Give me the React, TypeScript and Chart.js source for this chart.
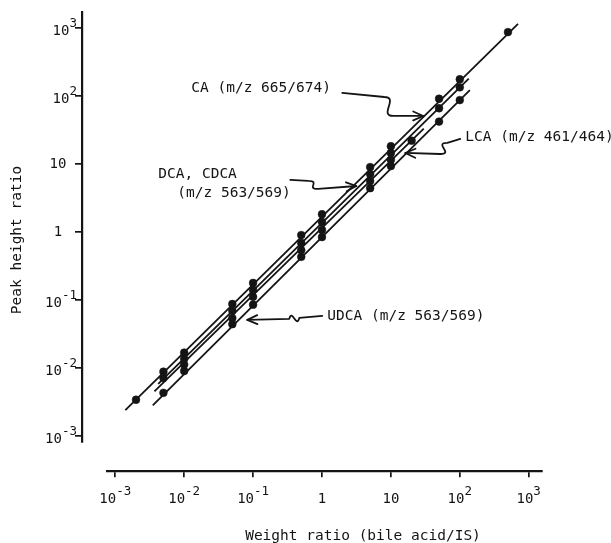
import React, { useEffect, useRef } from 'react';
import { Chart, registerables } from 'chart.js';

Chart.register(...registerables);

const FONT = '"DejaVu Sans Mono", "Liberation Mono", monospace';
const INK = '#141414';

// ---------------- data ----------------
// calibration points: weight ratio (x) vs peak height ratio (y)
const caX = [0.002, 0.005, 0.01, 0.05, 0.1, 0.5, 1, 5, 10, 50, 100, 500];
const caY = [0.0034, 0.0088, 0.0168, 0.087, 0.178, 0.9, 1.82, 9.0, 18.2, 91, 176, 870];

const dcaX = [0.005, 0.01, 0.05, 0.1, 0.5, 1, 5, 10, 50, 100];
const dcaY = [0.0071, 0.0136, 0.069, 0.14, 0.69, 1.4, 7.1, 14.5, 66, 134];

const udcaX = [0.01, 0.05, 0.1, 0.5, 1, 5, 10, 20];
const udcaY = [0.0112, 0.054, 0.111, 0.54, 1.07, 5.6, 11.5, 22];

const lcaX = [0.005, 0.01, 0.05, 0.1, 0.5, 1, 5, 10, 50, 100];
const lcaY = [0.0043, 0.009, 0.044, 0.085, 0.43, 0.84, 4.4, 9.3, 42, 87];

// fitted calibration lines (start / end)
const caLineX = [0.0014, 700];
const caLineY = [0.0024, 1150];
const dcaLineX = [0.0042, 135];
const dcaLineY = [0.0058, 180];
const udcaLineX = [0.0037, 30];
const udcaLineY = [0.0045, 33];
const lcaLineX = [0.0035, 140];
const lcaLineY = [0.0028, 122];

// axes
const xMin = Math.pow(10, -3.12);
const xMax = Math.pow(10, 3.193);
const yMin = Math.pow(10, -3.09);
const yMax = Math.pow(10, 3.235);
const yAxisAtX = Math.pow(10, -3.483); // x value where the (offset) y axis sits
const xAxisAtY = Math.pow(10, -3.515); // y value where the (offset) x axis sits

const tickValues = [0.001, 0.01, 0.1, 1, 10, 100, 1000];
const tickBase = ['10', '10', '10', '1', '10', '10', '10'];
const tickSup = ['-3', '-2', '-1', '', '', '2', '3'];

const xTitle = 'Weight ratio (bile acid/IS)';
const yTitle = 'Peak height ratio';

// annotations (positions in data coordinates)
const noteText = ['CA (m/z 665/674)', 'LCA (m/z 461/464)', 'DCA, CDCA', '(m/z 563/569)', 'UDCA (m/z 563/569)'];
const noteX = [0.01268, 120.2, 0.00421, 0.00794, 1.194];
const noteY = [131.2, 24.9, 7.13, 3.75, 0.0582];

// squiggly arrows: tail, kink start, kink end, tip
const arrowX = [
  [1.972, 8.02, 10.84, 29.5],
  [101.6, 65.9, 52.1, 16.2],
  [0.347, 0.632, 0.883, 3.15],
  [1.009, 0.469, 0.335, 0.0824],
];
const arrowY = [
  [110.7, 96.6, 50.8, 50.8],
  [23.3, 20.4, 14.0, 14.5],
  [5.82, 5.62, 4.29, 4.74],
  [0.0582, 0.0543, 0.0526, 0.0508],
];
const arrowW = [15, 14, 13, 3];
const arrowA = [0, 0, 0, 11];

const pts = (xs: number[], ys: number[]) => xs.map((x, i) => ({ x, y: ys[i] }));

const lineSets = [
  { label: 'CA line', x: caLineX, y: caLineY },
  { label: 'DCA, CDCA line', x: dcaLineX, y: dcaLineY },
  { label: 'UDCA line', x: udcaLineX, y: udcaLineY },
  { label: 'LCA line', x: lcaLineX, y: lcaLineY },
];
const pointSets = [
  { label: 'CA', x: caX, y: caY },
  { label: 'DCA, CDCA', x: dcaX, y: dcaY },
  { label: 'UDCA', x: udcaX, y: udcaY },
  { label: 'LCA', x: lcaX, y: lcaY },
];

const overlayPlugin = {
  id: 'overlay',
  afterDraw(chart: any) {
    const ctx: CanvasRenderingContext2D = chart.ctx;
    const xs = chart.scales.x;
    const ys = chart.scales.y;
    const axisPx = xs.getPixelForValue(yAxisAtX);
    const axisPy = ys.getPixelForValue(xAxisAtY);
    const baseFont = `14px ${FONT}`;
    const supFont = `12.5px ${FONT}`;
    const measure = (t: string, f: string) => {
      ctx.font = f;
      return ctx.measureText(t).width;
    };
    ctx.save();
    ctx.fillStyle = INK;
    ctx.strokeStyle = INK;
    ctx.textBaseline = 'middle';

    // y tick labels
    tickValues.forEach((v, i) => {
      const py = ys.getPixelForValue(v);
      const b = tickBase[i];
      const s = tickSup[i];
      if (s) {
        const wb = measure(b, baseFont);
        const wsu = measure(s, supFont);
        const x0 = axisPx - 5 - wb - wsu;
        ctx.textAlign = 'left';
        ctx.font = baseFont;
        ctx.fillText(b, x0, py + 3);
        ctx.font = supFont;
        ctx.fillText(s, x0 + wb, py - 4);
      } else {
        ctx.textAlign = 'center';
        ctx.font = baseFont;
        ctx.fillText(b, axisPx - 24, py + 0.5);
      }
    });

    // x tick labels
    tickValues.forEach((v, i) => {
      const px = xs.getPixelForValue(v);
      const b = tickBase[i];
      const s = tickSup[i];
      const wb = measure(b, baseFont);
      const wsu = s ? measure(s, supFont) : 0;
      const x0 = px - (wb + wsu) / 2;
      ctx.textAlign = 'left';
      ctx.font = baseFont;
      ctx.fillText(b, x0, axisPy + 28);
      if (s) {
        ctx.font = supFont;
        ctx.fillText(s, x0 + wb, axisPy + 21);
      }
    });

    // axis titles
    ctx.font = `14.5px ${FONT}`;
    ctx.textBaseline = 'alphabetic';
    ctx.textAlign = 'center';
    ctx.fillText(xTitle, 363, 540);
    ctx.save();
    ctx.translate(21, 240);
    ctx.rotate(-Math.PI / 2);
    ctx.fillText(yTitle, 0, 0);
    ctx.restore();

    // annotation texts
    ctx.textBaseline = 'middle';
    ctx.textAlign = 'left';
    ctx.font = `14.5px ${FONT}`;
    noteText.forEach((t, i) => {
      ctx.fillText(t, xs.getPixelForValue(noteX[i]), ys.getPixelForValue(noteY[i]));
    });

    // squiggly arrows
    ctx.lineWidth = 1.8;
    ctx.lineCap = 'round';
    ctx.lineJoin = 'round';
    arrowX.forEach((ax, i) => {
      const p = ax.map((xv, j) => [xs.getPixelForValue(xv), ys.getPixelForValue(arrowY[i][j])]);
      const [t, k1, k2, tip] = p;
      const dir = tip[0] > t[0] ? 1 : -1;
      const w = arrowW[i];
      const a = arrowA[i];
      ctx.beginPath();
      ctx.moveTo(t[0], t[1]);
      ctx.lineTo(k1[0], k1[1]);
      ctx.bezierCurveTo(k1[0] + dir * w, k1[1] + a, k2[0] - dir * w, k2[1] - a, k2[0], k2[1]);
      ctx.lineTo(tip[0], tip[1]);
      ctx.stroke();
      // arrow head
      const ang = Math.atan2(tip[1] - k2[1], tip[0] - k2[0]);
      const L = 11;
      const spread = 0.42;
      ctx.beginPath();
      ctx.moveTo(tip[0] - L * Math.cos(ang - spread), tip[1] - L * Math.sin(ang - spread));
      ctx.lineTo(tip[0], tip[1]);
      ctx.lineTo(tip[0] - L * Math.cos(ang + spread), tip[1] - L * Math.sin(ang + spread));
      ctx.stroke();
    });

    ctx.restore();
  },
};

export default function App() {
  const ref = useRef<HTMLCanvasElement>(null);
  useEffect(() => {
    if (!ref.current) return;
    const datasets: any[] = [
      ...lineSets.map((l) => ({
        label: l.label,
        data: pts(l.x, l.y),
        showLine: true,
        pointRadius: 0,
        borderColor: INK,
        borderWidth: 1.8,
        backgroundColor: INK,
      })),
      ...pointSets.map((s) => ({
        label: s.label,
        data: pts(s.x, s.y),
        showLine: false,
        pointRadius: 3.9,
        pointBackgroundColor: INK,
        pointBorderColor: INK,
        pointBorderWidth: 0.5,
      })),
    ];
    const axisCommon = (tickLength: number) => ({
      type: 'logarithmic' as const,
      bounds: 'data' as const,
      grid: {
        display: true,
        drawOnChartArea: false,
        drawTicks: true,
        tickLength,
        color: INK,
        lineWidth: 1.7,
      },
      border: { display: true, color: INK, width: 2.2 },
      ticks: { display: false, autoSkip: false },
      afterBuildTicks: (scale: any) => {
        scale.ticks = tickValues.map((v) => ({ value: v }));
      },
    });
    const chart = new Chart(ref.current, {
      type: 'scatter',
      data: { datasets },
      options: {
        animation: false,
        responsive: false,
        events: [],
        layout: { autoPadding: false, padding: { left: 107, right: 69, top: 12, bottom: 101 } },
        plugins: { legend: { display: false }, tooltip: { enabled: false } },
        scales: {
          x: { ...axisCommon(5), min: xMin, max: xMax, position: { y: xAxisAtY } },
          y: { ...axisCommon(6), min: yMin, max: yMax, position: { x: yAxisAtX } },
        },
      } as any,
      plugins: [overlayPlugin],
    });
    return () => chart.destroy();
  }, []);
  return (
    <div style={{ position: 'absolute', left: 0, top: 0, width: 611, height: 543, background: '#fff' }}>
      <canvas ref={ref} width={611} height={543} style={{ display: 'block' }} />
    </div>
  );
}
